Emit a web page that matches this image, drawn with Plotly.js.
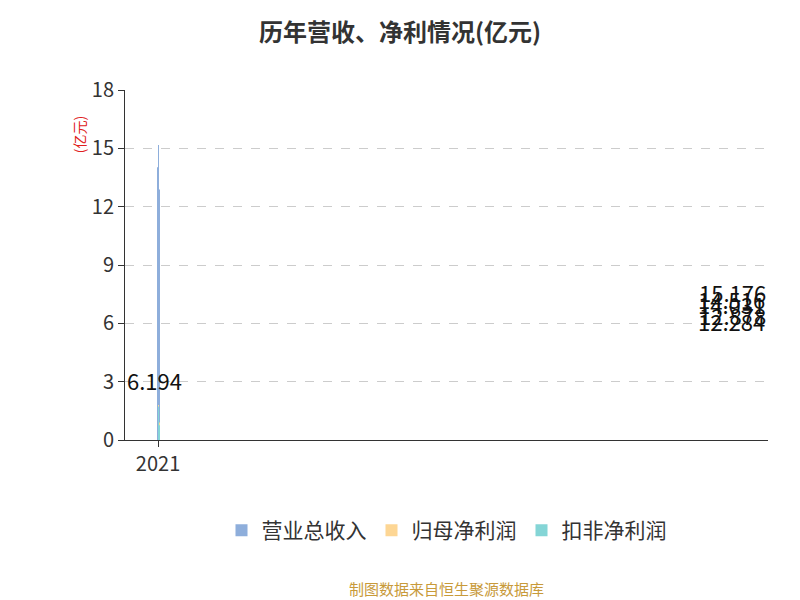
<!DOCTYPE html>
<html><head><meta charset="utf-8">
<script src="https://cdn.plot.ly/plotly-3.0.1.min.js"></script>
<style>body{margin:0}</style></head>
<body><div id="chart" style="width:800px;height:600px"></div>
<script>
var years = ['2021', '2022', '2023', '2024', '2025', '2026H1'];
var revenue = [14.031, 12.284, 14.516, 15.176, 12.878, 6.194];
var netProfit = [1.8, 0.9, 0.78, 0.78, 0.9, 0.12];
var deductedProfit = [1.72, 0.7, 0.65, 0.75, 0.75, 0.1];

var font = 'Noto Sans CJK SC, Noto Sans, sans-serif';

var traces = [
  {type: 'bar', name: '营业总收入', x: years, y: revenue, marker: {color: '#8eaedb'}},
  {type: 'bar', name: '归母净利润', x: years, y: netProfit, marker: {color: '#fdd694'}},
  {type: 'bar', name: '扣非净利润', x: years, y: deductedProfit, marker: {color: '#84d5d6'}}
];

var notes = years.map(function (y, i) {
  return {x: y, y: revenue[i] / 2, xshift: -5, text: revenue[i].toFixed(3), showarrow: false,
    font: {size: 22, color: '#111'}};
});
notes.push({xref: 'paper', yref: 'paper', x: -0.09, y: 0.93, text: '(亿元)', textangle: -90,
  showarrow: false, font: {size: 14, color: '#e02020'}});
notes.push({xref: 'paper', yref: 'paper', x: 0.5, y: -0.46, text: '制图数据来自恒生聚源数据库',
  showarrow: false, font: {size: 15, color: '#c89a3a'}});

Plotly.newPlot('chart', traces, {
  width: 800, height: 600,
  font: {family: font, size: 20, color: '#333'},
  title: {text: '<b>历年营收、净利情况(亿元)</b>', x: 0.5, y: 0.96, font: {size: 24, color: '#333'}},
  margin: {l: 125, r: 32, t: 90, b: 160},
  bargap: 0.2, bargroupgap: 0.03,
  xaxis: {type: 'category', showline: true, linecolor: '#333', ticks: 'outside', tickcolor: '#333', ticklen: 6},
  yaxis: {range: [0, 18], dtick: 3, showline: true, linecolor: '#333', ticks: 'outside',
    tickcolor: '#333', ticklen: 6, gridcolor: '#ccc', griddash: 'dash', zeroline: false},
  legend: {orientation: 'h', x: 0.5, xanchor: 'center', y: -0.2, font: {size: 21}},
  annotations: notes,
  plot_bgcolor: '#fff'
}, {displayModeBar: false});
</script></body></html>
